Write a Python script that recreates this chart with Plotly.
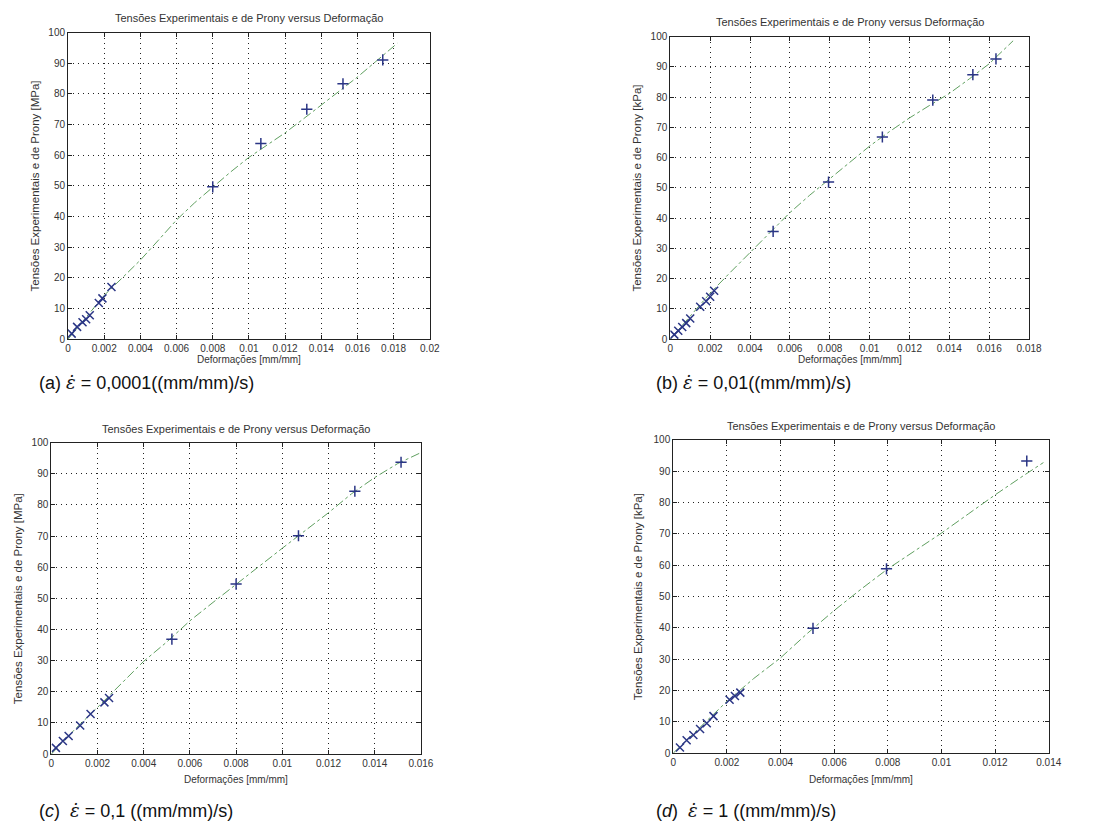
import plotly.graph_objects as go

# ---------------- data ----------------
# (a) strain rate 0.0001
a_exp_x = [0.0002, 0.0005, 0.0008, 0.0010, 0.0012, 0.0017, 0.0019, 0.0024,
           0.0080, 0.01066, 0.0132, 0.0152, 0.0174]
a_exp_y = [1.8, 4.0, 5.5, 6.5, 7.8, 11.8, 13.3, 17.0,
           49.7, 63.8, 75.0, 83.3, 91.1]
a_fit_x = [0, 0.001, 0.002, 0.003, 0.004, 0.005, 0.006, 0.007, 0.008, 0.009,
           0.010, 0.011, 0.012, 0.013, 0.014, 0.015, 0.016, 0.017, 0.0182]
a_fit_y = [0, 7.3, 14.3, 20.0, 25.8, 32.3, 38.9, 44.5, 49.7, 54.6,
           59.3, 63.3, 67.3, 71.8, 76.4, 81.0, 85.5, 90.5, 96.5]

# (b) strain rate 0.01
b_exp_x = [0.0002, 0.0004, 0.0006, 0.0008, 0.0010, 0.0015, 0.0018, 0.0020, 0.0022,
           0.00516, 0.00794, 0.01064, 0.01317, 0.01518, 0.01634]
b_exp_y = [1.5, 2.8, 4.0, 5.3, 6.8, 10.7, 12.5, 14.0, 16.0,
           35.6, 51.9, 66.8, 79.0, 87.4, 92.6]
b_fit_x = [0, 0.001, 0.002, 0.003, 0.004, 0.005, 0.006, 0.007, 0.008, 0.009,
           0.010, 0.011, 0.012, 0.013, 0.014, 0.015, 0.016, 0.0172]
b_fit_y = [0, 7.6, 15.2, 22.0, 28.6, 35.3, 41.8, 47.6, 53.0, 58.5,
           63.8, 68.6, 73.1, 77.2, 81.2, 86.0, 91.0, 98.6]

# (c) strain rate 0.1
c_exp_x = [0.0002, 0.0005, 0.00075, 0.00125, 0.0017, 0.0023, 0.0025,
           0.00522, 0.0080, 0.0107, 0.01314, 0.01514]
c_exp_y = [2.0, 4.2, 5.8, 9.2, 12.9, 16.6, 18.0,
           36.9, 54.6, 70.1, 84.4, 93.7]
c_fit_x = [0, 0.001, 0.002, 0.003, 0.004, 0.005, 0.006, 0.007, 0.008, 0.009,
           0.010, 0.011, 0.012, 0.013, 0.014, 0.015, 0.016]
c_fit_y = [0, 7.8, 15.0, 22.5, 29.8, 36.0, 42.8, 48.7, 54.6, 60.4,
           66.1, 71.8, 77.5, 83.6, 88.8, 93.3, 96.8]

# (d) strain rate 1
d_exp_x = [0.00025, 0.0005, 0.00075, 0.0010, 0.00125, 0.0015, 0.0021, 0.0023, 0.0025,
           0.00521, 0.00795, 0.01318]
d_exp_y = [1.8, 4.1, 5.8, 7.7, 9.5, 11.8, 17.0, 18.2, 19.3,
           39.8, 58.8, 93.2]
d_fit_x = [0, 0.001, 0.002, 0.003, 0.004, 0.005, 0.006, 0.007, 0.008, 0.009,
           0.010, 0.011, 0.012, 0.013, 0.0138]
d_fit_y = [0, 8.3, 16.5, 23.8, 30.4, 38.2, 45.5, 52.3, 58.8, 64.5,
           70.2, 76.3, 82.4, 88.2, 92.7]

a_xticks = [0, 0.002, 0.004, 0.006, 0.008, 0.01, 0.012, 0.014, 0.016, 0.018, 0.02]
a_xlabels = ["0", "0.002", "0.004", "0.006", "0.008", "0.01", "0.012", "0.014", "0.016", "0.018", "0.02"]
b_xticks = a_xticks[:10]
b_xlabels = a_xlabels[:10]
c_xticks = a_xticks[:9]
c_xlabels = a_xlabels[:9]
d_xticks = a_xticks[:8]
d_xlabels = a_xlabels[:8]
y_ticks = [0, 10, 20, 30, 40, 50, 60, 70, 80, 90, 100]

title_text = "Tensões Experimentais e de Prony versus Deformação"
x_title = "Deformações [mm/mm]"
y_title_mpa = "Tensões Experimentais e de Prony [MPa]"
y_title_kpa = "Tensões Experimentais e de Prony [kPa]"
EPS = '<span style="font-family:DejaVu Serif"><i>ε̇</i></span>'
captions = ["(a) " + EPS + " = 0,0001((mm/mm)/s)",
            "(b) " + EPS + " = 0,01((mm/mm)/s)",
            "(<i>c</i>)  " + EPS + " = 0,1 ((mm/mm)/s)",
            "(<i>d</i>)  " + EPS + " = 1 ((mm/mm)/s)"]

# ---------------- layout geometry (pixels) ----------------
W, H = 1115, 836
panels = [
    dict(px=(66, 433), py=(27, 338), xmax=0.02, xt=a_xticks, xl=a_xlabels, yt=y_title_mpa,
         ex=a_exp_x, ey=a_exp_y, fx=a_fit_x, fy=a_fit_y, ytx=32, tty=12, xty=359, cap=(35, 382)),
    dict(px=(677, 1041), py=(31, 338), xmax=0.018, xt=b_xticks, xl=b_xlabels, yt=y_title_kpa,
         ex=b_exp_x, ey=b_exp_y, fx=b_fit_x, fy=b_fit_y, ytx=643, tty=16, xty=359, cap=(660, 382)),
    dict(px=(49, 424), py=(443, 759), xmax=0.016, xt=c_xticks, xl=c_xlabels, yt=y_title_mpa,
         ex=c_exp_x, ey=c_exp_y, fx=c_fit_x, fy=c_fit_y, ytx=16, tty=429, xty=785, cap=(35, 816)),
    dict(px=(680, 1061), py=(440, 758), xmax=0.014, xt=d_xticks, xl=d_xlabels, yt=y_title_kpa,
         ex=d_exp_x, ey=d_exp_y, fx=d_fit_x, fy=d_fit_y, ytx=645, tty=426, xty=785, cap=(660, 816)),
]

fig = go.Figure()
annotations = []
font_fam = "Liberation Sans, Arial, sans-serif"
txt_col = "#333333"

for i, p in enumerate(panels):
    n = "" if i == 0 else str(i + 1)
    xa, ya = "x" + n, "y" + n
    xdom = [p["px"][0] / W, p["px"][1] / W]
    ydom = [1 - p["py"][1] / H, 1 - p["py"][0] / H]
    axis_common = dict(showline=True, linecolor="#222222", linewidth=1, mirror="ticks",
                       ticks="inside", ticklen=4, tickcolor="#222222",
                       showgrid=True, gridcolor="#222222", griddash="1px,4px", gridwidth=1,
                       zeroline=False, tickfont=dict(size=10, color=txt_col, family=font_fam))
    fig.update_layout(**{
        "xaxis" + n: dict(domain=xdom, anchor=ya, range=[0, p["xmax"]], tickmode="array",
                          tickvals=p["xt"], ticktext=p["xl"], **axis_common),
        "yaxis" + n: dict(domain=ydom, anchor=xa, range=[0, 100], tickmode="array",
                          tickvals=y_ticks, **axis_common),
    })
    fig.add_trace(go.Scatter(x=p["fx"], y=p["fy"], xaxis=xa, yaxis=ya, mode="lines",
                             line=dict(color="#5f9f5f", width=1, dash="dashdot"),
                             showlegend=False, hoverinfo="skip"))
    syms = ["x-thin" if xv < 0.003 else "cross-thin" for xv in p["ex"]]
    fig.add_trace(go.Scatter(x=p["ex"], y=p["ey"], xaxis=xa, yaxis=ya, mode="markers",
                             marker=dict(symbol=syms, size=8, line=dict(color="#2a3585", width=1.5),
                                         color="#2a3585"),
                             showlegend=False))
    cx = (p["px"][0] + p["px"][1]) / 2
    annotations.append(dict(text=title_text, x=cx / W, y=1 - p["tty"] / H, xref="paper", yref="paper",
                            showarrow=False, xanchor="center", yanchor="middle",
                            font=dict(size=11, color=txt_col, family=font_fam)))
    annotations.append(dict(text=x_title, x=cx / W, y=1 - p["xty"] / H, xref="paper", yref="paper",
                            showarrow=False, xanchor="center", yanchor="middle",
                            font=dict(size=10, color=txt_col, family=font_fam)))
    cy = (p["py"][0] + p["py"][1]) / 2
    annotations.append(dict(text=p["yt"], x=p["ytx"] / W, y=1 - cy / H, xref="paper", yref="paper",
                            showarrow=False, xanchor="center", yanchor="middle", textangle=-90,
                            font=dict(size=11.5, color=txt_col, family=font_fam)))
    annotations.append(dict(text=captions[i], x=p["cap"][0] / W, y=1 - p["cap"][1] / H,
                            xref="paper", yref="paper", showarrow=False,
                            xanchor="left", yanchor="middle",
                            font=dict(size=18, color="#111111", family=font_fam)))

fig.update_layout(width=W, height=H, margin=dict(l=0, r=0, t=0, b=0),
                  paper_bgcolor="white", plot_bgcolor="white",
                  annotations=annotations, showlegend=False)

fig.write_html("out.html")
